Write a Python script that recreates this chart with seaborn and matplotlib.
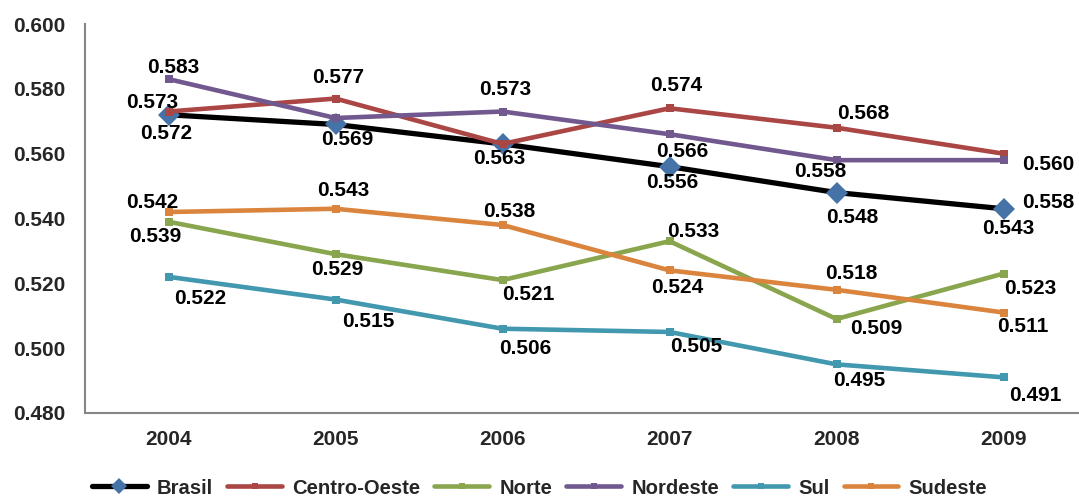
import numpy as np
import matplotlib
matplotlib.use("Agg")
import matplotlib.pyplot as plt
import seaborn as sns

# Índice de Gini por região, 2004-2009
years = ["2004", "2005", "2006", "2007", "2008", "2009"]
brasil = [0.572, 0.569, 0.563, 0.556, 0.548, 0.543]
centro_oeste = [0.573, 0.577, 0.563, 0.574, 0.568, 0.560]
norte = [0.539, 0.529, 0.521, 0.533, 0.509, 0.523]
nordeste = [0.583, 0.571, 0.573, 0.566, 0.558, 0.558]
sul = [0.522, 0.515, 0.506, 0.505, 0.495, 0.491]
sudeste = [0.542, 0.543, 0.538, 0.524, 0.518, 0.511]
y_ticks = [0.480, 0.500, 0.520, 0.540, 0.560, 0.580, 0.600]

# label offsets in pixels (dx, dy); None = no label shown
label_offsets = {
    "Brasil": [(-2, -19), (12, -15), (-3, -15), (3, -16), (16, -25), (5, -20)],
    "Centro-Oeste": [(-16, 9), (3, 21), None, (7, 23), (27, 14), (45, -11)],
    "Norte": [(-13, -15), (2, -15), (26, -14), (24, 10), (40, -10), (27, -15)],
    "Nordeste": [(5, 12), None, (3, 22), (13, -17), (-16, -11), (45, -42)],
    "Sul": [(32, -22), (33, -22), (23, -20), (27, -15), (23, -16), (32, -18)],
    "Sudeste": [(-16, 10), (8, 18), (7, 13), (8, -17), (15, 16), (19, -14)],
}

series = [
    ("Brasil", brasil, dict(color="black", marker="D", markersize=11,
                            markerfacecolor="#4572A7", markeredgecolor="#4572A7",
                            linewidth=3.8)),
    ("Centro-Oeste", centro_oeste, dict(color="#AA4643", marker="s", markersize=5.5,
                                        linewidth=3.3)),
    ("Norte", norte, dict(color="#89A54E", marker="s", markersize=5.5, linewidth=3.3)),
    ("Nordeste", nordeste, dict(color="#71588F", marker="s", markersize=5.5, linewidth=3.3)),
    ("Sul", sul, dict(color="#4198AF", marker="s", markersize=5.5, linewidth=3.3)),
    ("Sudeste", sudeste, dict(color="#DB843D", marker="s", markersize=5.5, linewidth=3.3)),
]

sns.set_style("white")
plt.rcParams["font.family"] = ["Liberation Sans", "DejaVu Sans"]
plt.rcParams["font.weight"] = "bold"

fig = plt.figure(figsize=(10.79, 4.97), dpi=100)
ax = fig.add_axes([85 / 1079, 84 / 497, 1002 / 1079, 389 / 497])

x = np.arange(len(years))
for name, vals, style in series:
    sns.lineplot(x=x, y=vals, ax=ax, label=name, markeredgewidth=0, **style)
    for xi, v, off in zip(x, vals, label_offsets[name]):
        if off is None:
            continue
        ax.annotate(f"{v:.3f}", (xi, v), xytext=off, textcoords="offset pixels",
                    ha="center", va="center", fontsize=15, fontweight="bold",
                    color="black")

ax.set_xlim(-0.5, len(years) - 0.5)
ax.set_ylim(0.480, 0.600)
ax.set_yticks(y_ticks)
ax.set_yticklabels([f"{t:.3f}" for t in y_ticks])
ax.set_xticks(np.arange(-0.5, len(years), 1.0))
ax.set_xticklabels([])
ax.set_xticks(x, minor=True)
ax.set_xticklabels(years, minor=True)
ax.tick_params(axis="x", which="major", direction="out", length=6, width=1.5,
               color="#868686")
ax.tick_params(axis="x", which="minor", length=0, pad=12, labelsize=15)
ax.tick_params(axis="y", direction="out", length=6, width=1.5, color="#868686",
               pad=8, labelsize=15)
for lab in ax.get_xticklabels(minor=True) + ax.get_yticklabels():
    lab.set_fontweight("bold")

sns.despine(ax=ax)
for s in ("left", "bottom"):
    ax.spines[s].set_color("#868686")
    ax.spines[s].set_linewidth(1.5)
ax.set_xlabel("")
ax.set_ylabel("")

handles, labels = ax.get_legend_handles_labels()
ax.get_legend().remove()
fig.legend(handles, labels, loc="center", bbox_to_anchor=(0.5, 9 / 497),
           ncol=6, frameon=False, handlelength=2.7,
           handletextpad=0.5, columnspacing=0.7, markerscale=0.75,
           prop={"weight": "bold", "size": 14.6})

fig.savefig("out.png", dpi=100)
